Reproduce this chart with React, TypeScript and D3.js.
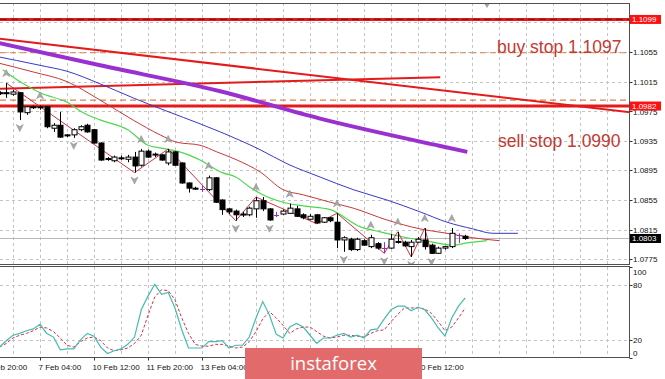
import React from "react";
import * as d3 from "d3";

// ---------- DATA ----------
const opens = [1.1000,1.1000,1.0998,1.1000,1.0973,1.0981,1.0980,1.0981,1.0952,1.0956,
  1.0943,1.0943,1.0950,1.0956,1.0950,1.0932,1.0911,1.0908,1.0912,1.0910,
  1.0913,1.0902,1.0921,1.0916,1.0916,1.0905,1.0920,1.0905,1.0878,1.0871,
  1.0870,1.0869,1.0885,1.0855,1.0843,1.0840,1.0835,1.0835,1.0843,1.0854,
  1.0843,1.0835,1.0836,1.0837,1.0843,1.0835,1.0829,1.0835,1.0825,1.0831,
  1.0825,1.0801,1.0802,1.0788,1.0800,1.0792,1.0796,1.0790,1.0790,1.0799,
  1.0798,1.0792,1.0798,1.0801,1.0794,1.0783,1.0790,1.0792,1.0808,1.0806];
const highs = [1.1002,1.1013,1.1004,1.1001,1.0982,1.0983,1.0983,1.0982,1.0959,1.0974,
  1.0944,1.0952,1.0956,1.0958,1.0951,1.0933,1.0913,1.0915,1.0915,1.0916,
  1.0920,1.0924,1.0923,1.0919,1.0917,1.0924,1.0921,1.0906,1.0879,1.0873,
  1.0874,1.0888,1.0886,1.0856,1.0844,1.0842,1.0839,1.0846,1.0859,1.0859,
  1.0844,1.0839,1.0842,1.0850,1.0847,1.0837,1.0836,1.0836,1.0832,1.0832,
  1.0837,1.0806,1.0804,1.0804,1.0802,1.0808,1.0798,1.0798,1.0809,1.0812,
  1.0800,1.0801,1.0805,1.0817,1.0796,1.0792,1.0793,1.0817,1.0810,1.0808];
const lows = [1.0997,1.0993,1.0996,1.0963,1.0970,1.0978,1.0977,1.0952,1.0947,1.0939,
  1.0940,1.0939,1.0948,1.0946,1.0931,1.0908,1.0908,1.0906,1.0909,1.0906,
  1.0892,1.0900,1.0912,1.0913,1.0908,1.0902,1.0901,1.0877,1.0865,1.0869,
  1.0866,1.0867,1.0851,1.0835,1.0836,1.0827,1.0832,1.0833,1.0831,1.0840,
  1.0827,1.0832,1.0835,1.0836,1.0832,1.0829,1.0828,1.0823,1.0824,1.0825,
  1.0790,1.0785,1.0786,1.0786,1.0793,1.0790,1.0788,1.0783,1.0789,1.0796,
  1.0792,1.0778,1.0797,1.0788,1.0782,1.0782,1.0788,1.0790,1.0797,1.0801];
const closes = [1.0999,1.0999,1.1001,1.0974,1.0981,1.0980,1.0981,1.0954,1.0956,1.0940,
  1.0942,1.0950,1.0954,1.0947,1.0932,1.0909,1.0910,1.0913,1.0911,1.0913,
  1.0901,1.0921,1.0913,1.0917,1.0909,1.0920,1.0902,1.0878,1.0871,1.0870,
  1.0870,1.0885,1.0852,1.0842,1.0839,1.0835,1.0836,1.0844,1.0854,1.0843,
  1.0828,1.0835,1.0840,1.0844,1.0833,1.0831,1.0833,1.0824,1.0831,1.0827,
  1.0801,1.0804,1.0788,1.0802,1.0794,1.0804,1.0790,1.0790,1.0802,1.0798,
  1.0793,1.0798,1.0802,1.0792,1.0783,1.0790,1.0792,1.0810,1.0808,1.0803];

const stochMain = [12,19,25,27,30,32,37,27,23,9, 10,10,20,27,24,12,5,8,10,15,
  23,53,68,81,70,72,55,31,11,11, 11,18,18,19,11,14,14,23,44,62,
  47,26,22,34,38,34,25,16,22,22, 25,27,23,25,22,31,32,43,53,57,
  57,52,56,53,44,33,24,44,57,66];
const stochSignal = [12,16,22,25,27,30,34,33,29,22, 14,12,18,22,23,19,11,8,9,11,
  16,25,47,67,75,74,64,44,27,15, 13,13,15,15,13,11,12,18,29,43,
  51,44,36,27,32,34,34,29,24,22, 23,25,25,24,23,27,30,31,40,48,
  55,55,55,54,49,40,30,34,44,55];

const greenMA: [number, number][] = [[0.5,1.1031],[3,1.1015],[6,1.1000],[10,1.0987],[12.4,1.0973],[15,1.0963],[19,1.0950],[22,1.0929],[24,1.0925],[26.7,1.0920],[29.7,1.0909],[33,1.0892],[35,1.0886],[37,1.0873],[39,1.0862],[42,1.0852],[45,1.0847],[49,1.0842],[53.4,1.0819],[56.4,1.0812],[60.4,1.0804],[64.2,1.0798],[67.2,1.0794],[69.3,1.0797],[72.2,1.0800]];
const redMA: [number, number][] = [[-1,1.1042],[5,1.1028],[10,1.1015],[14.9,1.0990],[19.8,1.0963],[23.8,1.0943],[26.3,1.0933],[29.7,1.0929],[32.2,1.0920],[35.2,1.0909],[38.6,1.0893],[42,1.0869],[45,1.0862],[49,1.0852],[52.4,1.0844],[57.4,1.0828],[62.3,1.0816],[66.3,1.0810],[70.1,1.0804],[74.1,1.0800]];
const blueMA: [number, number][] = [[-1,1.1050],[6,1.1037],[10,1.1029],[14.9,1.1012],[19.8,1.0993],[24.8,1.0975],[29.7,1.0958],[32.7,1.0947],[38.6,1.0923],[42.6,1.0904],[47.5,1.0886],[52.4,1.0869],[57.4,1.0855],[62.3,1.0839],[66.3,1.0825],[70.1,1.0816],[73.1,1.0810],[76.8,1.0810]];
const purpleMA: [number, number][] = [[-1,1.1069],[14.9,1.1037],[32.7,1.1002],[47.5,1.0965],[65.3,1.0928],[69.3,1.0920]];

const zigzagBars = [1,20,25,35,38,47,50,57,59,61,63,64];
const zigzagKinds = ["h","l","h","l","h","l","h","l","h","l","h","l"];
const fractalUpBars = [1,6,21,25,31,38,43,50,55,59,63,67];
const fractalDownBars = [3,11,20,35,40,51,57,61,64];

const trendLineA: [number, number][] = [[-1,1.1074],[94,1.0973]];
const trendLineB: [number, number][] = [[-1,1.1005],[65.3,1.1021]];
const thickLevels = [1.1099, 1.0982];
const dashedLevels = [1.1054, 1.0990];
const lastPrice = 1.0803;

// 1.1095 gridline label sits under the 1.1099 tag in the reference, so only its gridline is drawn
const priceGrid = [1.1095,1.1055,1.1015,1.0975,1.0935,1.0895,1.0855,1.0815,1.0775];
const priceTickLabels = [1.1055,1.1015,1.0975,1.0935,1.0895,1.0855,1.0815,1.0775];
const stochTicks = [100, 80, 20, 0];
const stochGrid = [80, 20];
// labels fully covered by the watermark in the reference (14 Feb 12:00, 17 Feb 20:00, 19 Feb 04:00) are left out
const timeLabelBars = [-2,6,14,22,30,62];
const timeLabels = ["5 Feb 20:00","7 Feb 04:00","10 Feb 12:00","11 Feb 20:00","13 Feb 04:00","20 Feb 12:00"];

const annotationTexts = ["buy stop 1.1097", "sell stop 1.0990"];
const annotationBars = [73.7, 73.85];
const annotationPrices = [1.1054, 1.0926];

// ---------- LAYOUT ----------
const W = 665, H = 379;
const PL = -1, PR = 629.5;
const MAIN_TOP = 3, MAIN_BOT = 264.5;
const OSC_TOP = 267, OSC_BOT = 357.5;

const x = d3.scaleLinear().domain([6, 14]).range([40, 94]);
const y = d3.scaleLinear().domain([1.0775, 1.1055]).range([259.2, 52]);
const ys = d3.scaleLinear().domain([0, 100]).range([358, 267]);

const FONT = "'Liberation Sans', Arial, sans-serif";

export default function App() {
  const bars = d3.range(opens.length);
  const maLine = d3.line<[number, number]>().x(d => x(d[0])).y(d => y(d[1])).curve(d3.curveMonotoneX);
  const straight = d3.line<[number, number]>().x(d => x(d[0])).y(d => y(d[1]));
  const stLine = d3.line<number>().x((_, i) => x(i)).y(d => ys(d));
  const zz: [number, number][] = zigzagBars.map((b, i) => [b, zigzagKinds[i] === "h" ? highs[b] : lows[b]]);
  const gridX = d3.range(2, 94, 4).map(b => Math.round(x(b)) + 0.5);

  const upArrow = (cx: number, cy: number) => `M${cx},${cy - 4} L${cx + 3.5},${cy + 3} L${cx},${cy + 1} L${cx - 3.5},${cy + 3} Z`;
  const downArrow = (cx: number, cy: number) => `M${cx},${cy + 4} L${cx + 3.5},${cy - 3} L${cx},${cy - 1} L${cx - 3.5},${cy - 3} Z`;

  return (
    <div style={{ position: "absolute", left: 0, top: 0 }}>
      <svg width={W} height={H} style={{ display: "block", background: "#fff" }}>
        <defs>
          <clipPath id="mainClip"><rect x={0} y={MAIN_TOP} width={PR} height={MAIN_BOT - MAIN_TOP} /></clipPath>
          <clipPath id="oscClip"><rect x={0} y={OSC_TOP} width={PR} height={OSC_BOT - OSC_TOP} /></clipPath>
        </defs>
        <rect x={0} y={0} width={W} height={H} fill="#fff" />

        {/* GRID */}
        <g stroke="#c4c4c4" strokeDasharray="3,3" strokeWidth={1}>
          {gridX.map((gx, i) => (
            <line key={"vx" + i} x1={gx} x2={gx} y1={MAIN_TOP} y2={MAIN_BOT} />
          ))}
          {gridX.map((gx, i) => (
            <line key={"vo" + i} x1={gx} x2={gx} y1={OSC_TOP} y2={OSC_BOT} />
          ))}
          {priceGrid.map((p, i) => (
            <line key={"h" + i} x1={0} x2={PR} y1={Math.round(y(p)) + 0.5} y2={Math.round(y(p)) + 0.5} />
          ))}
          {stochGrid.map((v, i) => (
            <line key={"sg" + i} x1={0} x2={PR} y1={Math.round(ys(v)) + 0.5} y2={Math.round(ys(v)) + 0.5} />
          ))}
        </g>

        <g clipPath="url(#mainClip)">
          <line x1={0} x2={PR} y1={Math.round(y(lastPrice)) + 0.5} y2={Math.round(y(lastPrice)) + 0.5} stroke="#b8b8b8" strokeWidth={1} />

          {dashedLevels.map((p, i) => (
            <line key={"dl" + i} x1={0} x2={PR} y1={y(p)} y2={y(p)} stroke="#d9824f" strokeWidth={1.2} strokeDasharray="6,4" />
          ))}
          {thickLevels.map((p, i) => (
            <g key={"tl" + i}>
              <line x1={0} x2={PR} y1={y(p)} y2={y(p)} stroke="#e31b1b" strokeWidth={3} />
              {i === 0 && <line x1={0} x2={PR} y1={y(p)} y2={y(p)} stroke="#9a1010" strokeWidth={1.2} strokeDasharray="7,4" />}
            </g>
          ))}

          <path d={straight(trendLineA) || ""} stroke="#e31b1b" strokeWidth={2} fill="none" />
          <path d={straight(trendLineB) || ""} stroke="#e31b1b" strokeWidth={2} fill="none" />

          <path d={maLine(purpleMA) || ""} stroke="#9b30d0" strokeWidth={4} fill="none" />
          <path d={maLine(blueMA) || ""} stroke="#3838c8" strokeWidth={1} fill="none" />
          <path d={maLine(redMA) || ""} stroke="#c83838" strokeWidth={1} fill="none" />
          <path d={maLine(greenMA) || ""} stroke="#4cd84c" strokeWidth={1.2} fill="none" />

          <path d={straight(zz) || ""} stroke="#d03040" strokeWidth={1} fill="none" />

          {fractalUpBars.map(b => (
            <path key={"fu" + b} d={upArrow(x(b), y(highs[b]) - 9.5)} fill="#a8a8a8" stroke="#8a8a8a" strokeWidth={0.5} />
          ))}
          {fractalDownBars.map(b => (
            <path key={"fd" + b} d={downArrow(x(b), y(lows[b]) + 7.5)} fill="#a8a8a8" stroke="#8a8a8a" strokeWidth={0.5} />
          ))}

          {bars.map(i => {
            const cx = Math.round(x(i)) + 0.5;
            const o = y(opens[i]), c = y(closes[i]);
            const top = Math.min(o, c), bot = Math.max(o, c);
            const doji = opens[i] === closes[i];
            const bull = closes[i] > opens[i];
            const col = doji ? "#9a2fbf" : "#000";
            return (
              <g key={"c" + i}>
                <line x1={cx} x2={cx} y1={y(highs[i])} y2={y(lows[i])} stroke={col} strokeWidth={1} />
                {doji ? (
                  <line x1={cx - 2.5} x2={cx + 2.5} y1={Math.round(o) + 0.5} y2={Math.round(o) + 0.5} stroke={col} strokeWidth={1} />
                ) : (
                  <rect x={cx - 2.5} y={top} width={5} height={Math.max(1, bot - top)} fill={bull ? "#fff" : "#000"} stroke="#000" strokeWidth={1} />
                )}
              </g>
            );
          })}

          {annotationTexts.map((t, i) => (
            <text key={"an" + i} x={x(annotationBars[i])} y={y(annotationPrices[i])} fontFamily={FONT} fontSize={17.5} fill="#c23a32">{t}</text>
          ))}
        </g>

        <path d="M484,3 L490,3 L487,8 Z" fill="#a0a0a0" />

        <g clipPath="url(#oscClip)">
          <path d={stLine(stochSignal) || ""} stroke="#d0304a" strokeWidth={1} strokeDasharray="3,2" fill="none" />
          <path d={stLine(stochMain) || ""} stroke="#45bcb0" strokeWidth={1.2} fill="none" />
        </g>

        <g fill="none" stroke="#505050" strokeWidth={1}>
          <rect x={PL} y={MAIN_TOP + 0.5} width={PR - PL} height={MAIN_BOT - MAIN_TOP - 0.5} />
          <rect x={PL} y={OSC_TOP - 0.5} width={PR - PL} height={OSC_BOT - OSC_TOP + 0.5} />
        </g>

        <g fontFamily={FONT} fontSize={8} fill="#111">
          {priceGrid.map((p, i) => (
            <line key={"ptk" + i} x1={PR} x2={PR + 3} y1={Math.round(y(p)) + 0.5} y2={Math.round(y(p)) + 0.5} stroke="#333" />
          ))}
          {priceTickLabels.map((p, i) => (
            <text key={"pt" + i} x={633} y={y(p) + (p === 1.0975 ? 4 : 3)}>{p.toFixed(4)}</text>
          ))}
          {stochTicks.map((v, i) => (
            <g key={"st" + i}>
              <line x1={PR} x2={PR + 3} y1={Math.round(ys(v)) + 0.5} y2={Math.round(ys(v)) + 0.5} stroke="#333" />
              <text x={633} y={ys(v) + (v === 100 ? 8 : v === 0 ? -2 : 3)}>{v}</text>
            </g>
          ))}
        </g>

        {thickLevels.map((p, i) => (
          <g key={"tag" + i}>
            <rect x={630} y={y(p) - 4.5} width={31} height={9} fill="#ff1010" />
            <text x={632} y={y(p) + 3} fontFamily={FONT} fontSize={8} fill="#fff">{p.toFixed(4)}</text>
          </g>
        ))}
        <rect x={630} y={y(lastPrice) - 4.5} width={31} height={9} fill="#000" />
        <text x={632} y={y(lastPrice) + 3} fontFamily={FONT} fontSize={8} fill="#fff">{lastPrice.toFixed(4)}</text>

        <g fontFamily={FONT} fontSize={8} fill="#111">
          {timeLabelBars.map((b, i) => (
            <g key={"tx" + i}>
              <line x1={Math.round(x(b)) + 0.5} x2={Math.round(x(b)) + 0.5} y1={OSC_BOT} y2={OSC_BOT + 3} stroke="#333" />
              <text x={x(b) - 1.5} y={369.5}>{timeLabels[i]}</text>
            </g>
          ))}
        </g>

        <rect x={245} y={348} width={177} height={31} fill="#e26a6a" />
        <text x={333.5} y={369.5} textAnchor="middle" fontFamily="'Open Sans', sans-serif" fontSize={18.5} fill="#fff">instaforex</text>
      </svg>
    </div>
  );
}
